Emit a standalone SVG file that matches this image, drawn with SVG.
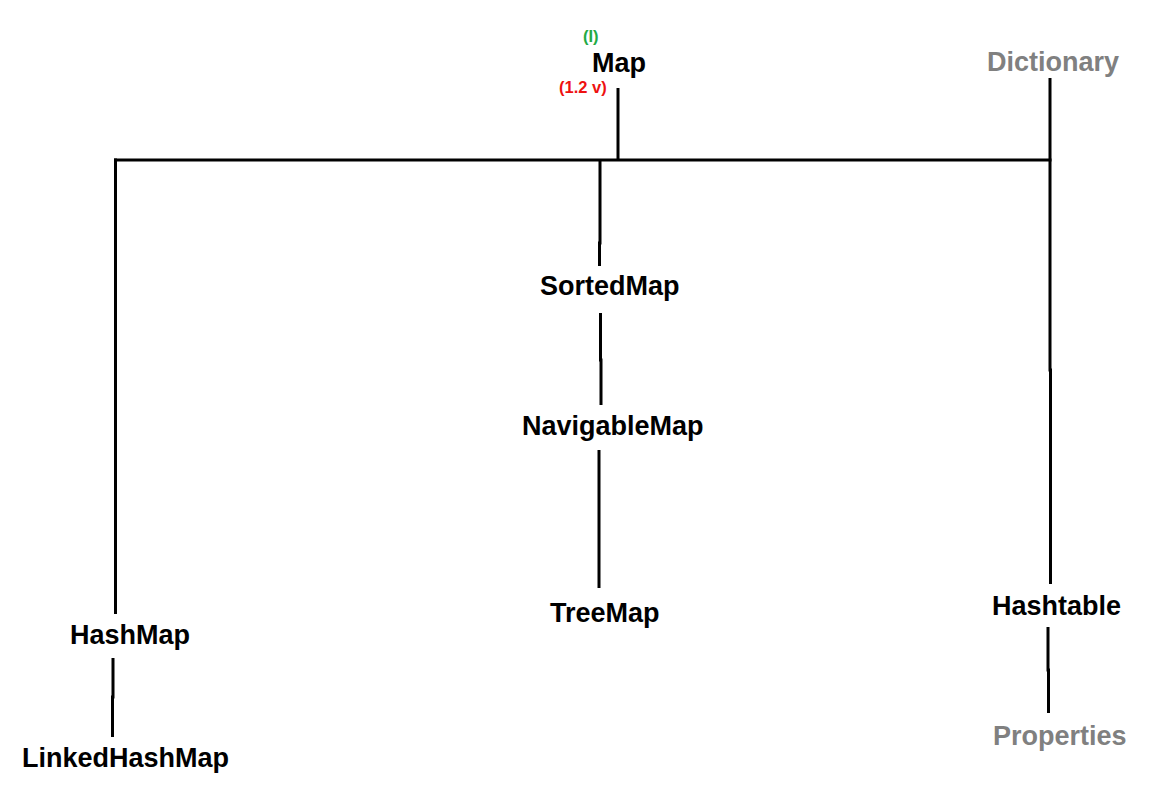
<svg xmlns="http://www.w3.org/2000/svg" width="1167" height="793" viewBox="0 0 1167 793">
<style>
.lbl{font-family:"Liberation Sans",Arial,sans-serif;font-weight:bold;font-size:27px;fill:#000}
.gray{fill:#808080}
.small{font-family:"Liberation Sans",Arial,sans-serif;font-weight:bold;font-size:16.5px}
.ln{stroke:#000;stroke-width:3;fill:none}
</style>
<rect width="1167" height="793" fill="#fff"/>
<g id="connectors">
<line class="ln" x1="618" y1="88" x2="618" y2="160"/>
<line class="ln" x1="114" y1="160" x2="1051.5" y2="160"/>
<line class="ln" x1="115.5" y1="158.5" x2="115.5" y2="614"/>
<polyline class="ln" points="600,160 600,243 599.5,243 599.5,266"/>
<polyline class="ln" points="600.5,313 600.5,360 601,360 601,405"/>
<line class="ln" x1="599" y1="450" x2="599" y2="588"/>
<polyline class="ln" points="1050,78 1050,370 1050.5,370 1050.5,584"/>
<polyline class="ln" points="1048,627 1048,670 1048.5,670 1048.5,713"/>
<polyline class="ln" points="113,658 113,697 112.5,697 112.5,737"/>
</g>
<g id="node-map">
<text class="lbl" x="592" y="72">Map</text>
<text class="small" x="583" y="42" fill="#22aa44">(I)</text>
<text class="small" x="559" y="93" fill="#ee1111">(1.2 v)</text>
</g>
<g id="node-dictionary"><text class="lbl gray" x="987" y="71">Dictionary</text></g>
<g id="node-sortedmap"><text class="lbl" x="540" y="295">SortedMap</text></g>
<g id="node-navigablemap"><text class="lbl" x="522" y="435">NavigableMap</text></g>
<g id="node-treemap"><text class="lbl" x="550" y="622">TreeMap</text></g>
<g id="node-hashmap"><text class="lbl" x="70" y="644">HashMap</text></g>
<g id="node-linkedhashmap"><text class="lbl" x="22" y="767">LinkedHashMap</text></g>
<g id="node-hashtable"><text class="lbl" x="992" y="615">Hashtable</text></g>
<g id="node-properties"><text class="lbl gray" x="993" y="745">Properties</text></g>
</svg>
